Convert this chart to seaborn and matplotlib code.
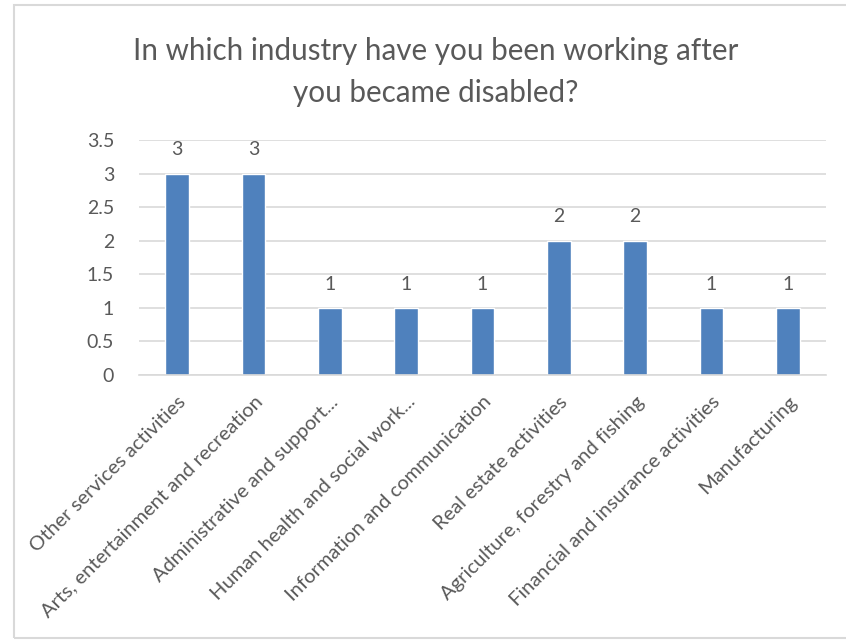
import matplotlib
matplotlib.use('Agg')
import matplotlib.pyplot as plt
import seaborn as sns
import pandas as pd
from matplotlib.patches import Rectangle

# Data
industries = [
    'Other services activities',
    'Arts, entertainment and recreation',
    'Administrative and support...',
    'Human health and social work...',
    'Information and communication',
    'Real estate activities',
    'Agriculture, forestry and fishing',
    'Financial and insurance activities',
    'Manufacturing',
]
counts = [3, 3, 1, 1, 1, 2, 2, 1, 1]
y_ticks = [0, 0.5, 1, 1.5, 2, 2.5, 3, 3.5]
y_tick_labels = ['0', '0.5', '1', '1.5', '2', '2.5', '3', '3.5']
title = 'In which industry have you been working after\nyou became disabled?'

df = pd.DataFrame({'industry': industries, 'count': counts})

sns.set_style('white')
plt.rcParams['font.family'] = ['Lato', 'DejaVu Sans']

bar_color = '#4F81BD'
text_color = '#595959'
grid_color = '#D9D9D9'

fig = plt.figure(figsize=(8.46, 6.41), dpi=100)

# chart box border
fig.patches.append(Rectangle((14 / 846, 3 / 641), 1.0, 633 / 641, transform=fig.transFigure,
                             fill=False, edgecolor='#D9D9D9', linewidth=1.5, zorder=0))

ax = fig.add_axes([139 / 846, 1 - 375 / 641, 687 / 846, 235 / 641])
sns.barplot(data=df, x='industry', y='count', color=bar_color, saturation=1,
            width=0.31, ax=ax)

ax.set_ylim(0, 3.5)
ax.set_yticks(y_ticks)
ax.set_yticklabels(y_tick_labels, fontsize=14, color=text_color)
ax.yaxis.grid(True, color=grid_color, linewidth=1.2)
ax.set_axisbelow(True)
ax.tick_params(axis='y', length=0, pad=18)
ax.tick_params(axis='x', length=0, pad=13)
ax.set_xticks(range(len(industries)))
ax.set_xticklabels(industries, rotation=45, ha='right', va='top', rotation_mode='anchor',
                   fontsize=14.5, color=text_color)
ax.set_xlabel('')
ax.set_ylabel('')
for s in ['top', 'right', 'left']:
    ax.spines[s].set_visible(False)
ax.spines['bottom'].set_color(grid_color)
ax.spines['bottom'].set_linewidth(1.2)

for cont in ax.containers:
    ax.bar_label(cont, fmt='%d', padding=11, fontsize=14, color=text_color)

fig.text(436 / 846, 1 - 72 / 641, title, ha='center', va='center',
         fontsize=21.3, color=text_color, linespacing=1.6)

fig.savefig('out.png', dpi=100)
